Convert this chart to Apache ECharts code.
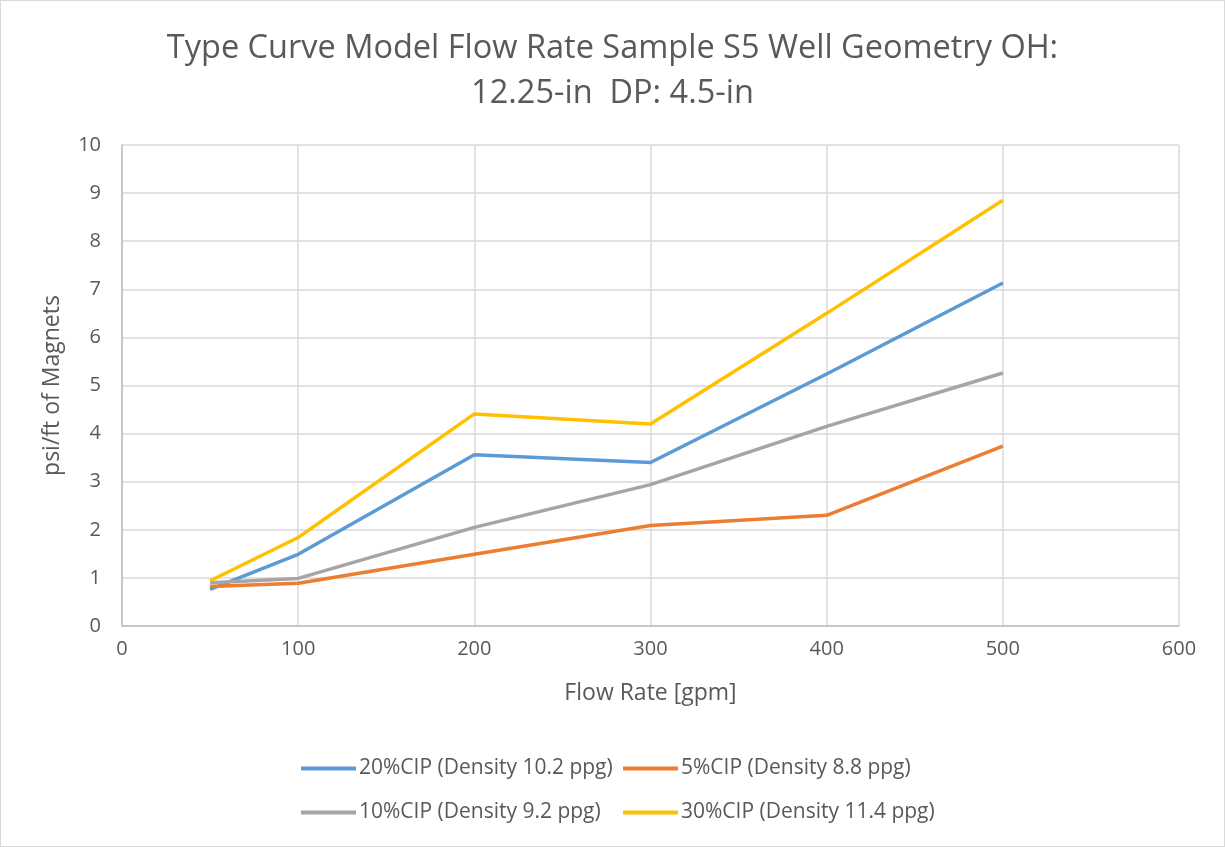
<!DOCTYPE html>
<html>
<head>
<meta charset="utf-8">
<script src="https://cdn.jsdelivr.net/npm/echarts@6/dist/echarts.min.js"></script>
<style>
  html, body { margin: 0; padding: 0; background: #fff; }
  #chart { width: 1225px; height: 847px; box-sizing: border-box; border: 1px solid #d9d9d9; }
</style>
</head>
<body>
<div id="chart"></div>
<script>
const flowRates = [50, 100, 200, 300, 400, 500]
const cip20 = [0.76, 1.49, 3.56, 3.40, 5.24, 7.13]
const cip5 = [0.82, 0.89, 1.49, 2.09, 2.30, 3.74]
const cip10 = [0.90, 0.99, 2.05, 2.94, 4.15, 5.26]
const cip30 = [0.94, 1.84, 4.41, 4.20, 6.50, 8.85]

const names = [
  '20%CIP (Density 10.2 ppg)',
  '5%CIP (Density 8.8 ppg)',
  '10%CIP (Density 9.2 ppg)',
  '30%CIP (Density 11.4 ppg)'
]
const colors = ['#5B9BD5', '#ED7D31', '#A5A5A5', '#FFC000']
const values = [cip20, cip5, cip10, cip30]

const font = 'Open Sans'
const textColor = '#595959'

const chart = echarts.init(document.getElementById('chart'))

// one legend per item so the two rows line up in columns
const legendPos = [
  { left: 300, top: 757 },
  { left: 622, top: 757 },
  { left: 300, top: 801 },
  { left: 622, top: 801 }
]

const legend = names.map((n, i) => ({
  data: [n],
  left: legendPos[i].left,
  top: legendPos[i].top,
  padding: 0,
  itemWidth: 55,
  itemHeight: 4,
  itemGap: 0,
  icon: 'rect',
  textStyle: { fontFamily: font, fontSize: 21, color: textColor, padding: [0, 0, 0, -2] }
}))

chart.setOption({
  animation: false,
  color: colors,
  title: {
    text: 'Type Curve Model Flow Rate Sample S5 Well Geometry OH:\n12.25-in  DP: 4.5-in',
    left: 'center',
    top: 20,
    textStyle: { fontFamily: font, fontSize: 32.5, fontWeight: 'normal', color: textColor, lineHeight: 45 }
  },
  legend: legend,
  grid: { left: 121, right: 45, top: 144, bottom: 220 },
  xAxis: {
    type: 'value',
    min: 0,
    max: 600,
    interval: 100,
    name: 'Flow Rate [gpm]',
    nameLocation: 'middle',
    nameGap: 56,
    nameTextStyle: { fontFamily: font, fontSize: 23, color: textColor },
    axisLine: { lineStyle: { color: '#bfbfbf', width: 1.5 } },
    axisTick: { show: false },
    axisLabel: { fontFamily: font, fontSize: 20, color: textColor, margin: 13 },
    splitLine: { show: true, lineStyle: { color: '#d9d9d9', width: 1.5 } }
  },
  yAxis: {
    type: 'value',
    min: 0,
    max: 10,
    interval: 1,
    name: 'psi/ft of Magnets',
    nameLocation: 'middle',
    nameGap: 58,
    nameTextStyle: { fontFamily: font, fontSize: 23, color: textColor },
    axisLine: { show: true, lineStyle: { color: '#bfbfbf', width: 1.5 } },
    axisTick: { show: false },
    axisLabel: { fontFamily: font, fontSize: 20, color: textColor, margin: 21 },
    splitLine: { show: true, lineStyle: { color: '#d9d9d9', width: 1.5 } }
  },
  series: names.map((n, i) => ({
    name: n,
    type: 'line',
    data: flowRates.map((x, j) => [x, values[i][j]]),
    showSymbol: false,
    symbol: 'none',
    lineStyle: { width: 3.5, color: colors[i] },
    itemStyle: { color: colors[i] }
  }))
})
</script>
</body>
</html>
